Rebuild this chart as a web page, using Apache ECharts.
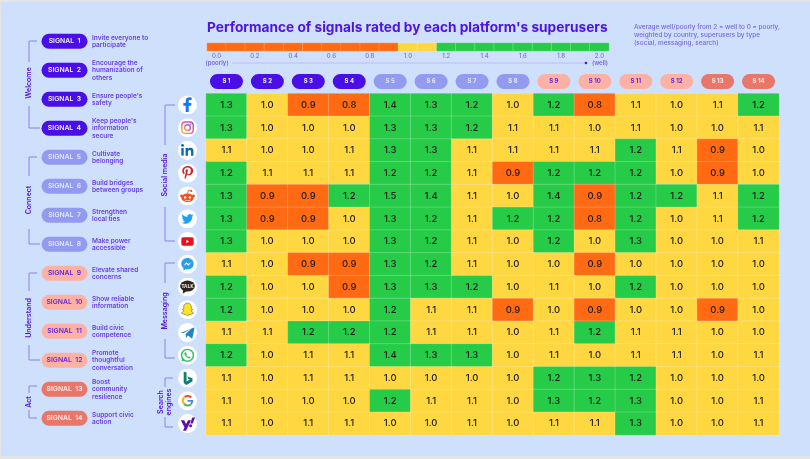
<!DOCTYPE html>
<html>
<head>
<meta charset="UTF-8">
<title>Performance of signals</title>
<script src="https://cdn.jsdelivr.net/npm/echarts@6/dist/echarts.min.js"></script>
<style>
html,body{margin:0;padding:0;background:#e4e4e4;}
#main{width:810px;height:459px;}
</style>
</head>
<body>
<div id="main"></div>
<script>
var FONT = 'Inter, "Open Sans", sans-serif';
var PURPLE = '#4f14e0';
var TEXT_PURPLE = '#6a3fe6';

var signalNames = ['SIGNAL  1','SIGNAL  2','SIGNAL  3','SIGNAL  4','SIGNAL  5','SIGNAL  6','SIGNAL  7','SIGNAL  8','SIGNAL  9','SIGNAL  10','SIGNAL  11','SIGNAL  12','SIGNAL  13','SIGNAL  14'];
var signalNotes = ['Invite everyone to\nparticipate','Encourage the\nhumanization of\nothers','Ensure people\'s\nsafety','Keep people\'s\ninformation\nsecure','Cultivate\nbelonging','Build bridges\nbetween groups','Strengthen\nlocal ties','Make power\naccessible','Elevate shared\nconcerns','Show reliable\ninformation','Build civic\ncompetence','Promote\nthoughtful\nconversation','Boost\ncommunity\nresilience','Support civic\naction'];
var signalShort = ['S 1','S 2','S 3','S 4','S 5','S 6','S 7','S 8','S 9','S 10','S 11','S 12','S 13','S 14'];
var signalGroup = [0,0,0,0,1,1,1,1,2,2,2,2,3,3];
var platforms = ['Facebook','Instagram','LinkedIn','Pinterest','Reddit','Twitter','YouTube','Messenger','KakaoTalk','Snapchat','Telegram','WhatsApp','Bing','Google','Yahoo'];
var ratings = [
  [1.3,1.0,0.9,0.8,1.4,1.3,1.2,1.0,1.2,0.8,1.1,1.0,1.1,1.2],
  [1.3,1.0,1.0,1.0,1.3,1.3,1.2,1.1,1.1,1.0,1.1,1.0,1.0,1.1],
  [1.1,1.0,1.0,1.1,1.3,1.3,1.1,1.1,1.1,1.1,1.2,1.1,0.9,1.0],
  [1.2,1.1,1.1,1.1,1.2,1.2,1.1,0.9,1.2,1.2,1.2,1.0,0.9,1.0],
  [1.3,0.9,0.9,1.2,1.5,1.4,1.1,1.0,1.4,0.9,1.2,1.2,1.1,1.2],
  [1.3,0.9,0.9,1.0,1.3,1.2,1.1,1.2,1.2,0.8,1.2,1.0,1.1,1.2],
  [1.3,1.0,1.0,1.0,1.3,1.2,1.1,1.0,1.2,1.0,1.3,1.0,1.0,1.1],
  [1.1,1.0,0.9,0.9,1.3,1.2,1.1,1.0,1.0,0.9,1.0,1.0,1.0,1.0],
  [1.2,1.0,1.0,0.9,1.3,1.3,1.2,1.0,1.1,1.0,1.2,1.0,1.0,1.0],
  [1.2,1.0,1.0,1.0,1.2,1.1,1.1,0.9,1.0,0.9,1.0,1.0,0.9,1.0],
  [1.1,1.1,1.2,1.2,1.2,1.1,1.1,1.0,1.1,1.2,1.1,1.1,1.0,1.0],
  [1.2,1.0,1.1,1.1,1.4,1.3,1.3,1.0,1.1,1.0,1.1,1.1,1.0,1.1],
  [1.1,1.0,1.1,1.1,1.0,1.0,1.0,1.0,1.2,1.3,1.2,1.0,1.0,1.0],
  [1.1,1.0,1.0,1.0,1.2,1.1,1.1,1.0,1.3,1.2,1.3,1.0,1.0,1.1],
  [1.1,1.0,1.1,1.1,1.0,1.0,1.1,1.0,1.1,1.1,1.3,1.0,1.0,1.1]
];
var legendSteps = ['0.0','0.1','0.2','0.3','0.4','0.5','0.6','0.7','0.8','0.9','1.0','1.1','1.2','1.3','1.4','1.5','1.6','1.7','1.8','1.9','2.0'];

// pill colours per signal group: welcome, connect, understand, act
var groupFill = ['#4a0fe6','#929bf0','#fdb1a5','#e8776a'];
var groupText = ['#f1ecff','#e3e6ff','#6428e0','#ffe9e4'];

// stadium outlines, stretched to symbolSize
var PILL_WIDE = 'path://M7.5 0H38.5A7.5 7.5 0 0 1 38.5 15H7.5A7.5 7.5 0 0 1 7.5 0Z';
var PILL_SHORT = 'path://M7.5 0H25.5A7.5 7.5 0 0 1 25.5 15H7.5A7.5 7.5 0 0 1 7.5 0Z';

// small hand drawn platform icons, white disc + glyph
function svgIcon(inner){
  var s = '<svg xmlns="http://www.w3.org/2000/svg" width="80" height="80" viewBox="0 0 40 40"><circle cx="20" cy="20" r="20" fill="#fff"/>' + inner + '</svg>';
  return 'image://data:image/svg+xml;charset=utf-8,' + encodeURIComponent(s);
}
var bird = 'M23.95 4.57a10 10 0 01-2.82.77 4.96 4.96 0 002.16-2.72c-.95.55-2 .96-3.12 1.19a4.92 4.92 0 00-8.38 4.48A13.98 13.98 0 011.64 3.16a4.92 4.92 0 001.52 6.57 4.9 4.9 0 01-2.23-.61v.06a4.92 4.92 0 003.95 4.83 5 5 0 01-2.21.08 4.94 4.94 0 004.6 3.42A9.87 9.87 0 010 19.54a14 14 0 007.56 2.21c9.05 0 14-7.5 14-13.98 0-.21 0-.42-.02-.63a9.94 9.94 0 002.46-2.55z';
var icons = [
  svgIcon('<path d="M22.500 35V22h5l1-6h-6v-3.500c0-2 1-3 3-3h3.200V4.500c-1.500-.2-3-.4-4.500-.4-5 0-8 3-8 8V16h-5v6h5v13z" fill="#1877f2"/>'),
  svgIcon('<defs><linearGradient id="g" x1="0" y1="1" x2="1" y2="0"><stop offset="0" stop-color="#fdb34a"/><stop offset=".5" stop-color="#e0608a"/><stop offset="1" stop-color="#9a55d0"/></linearGradient></defs><rect x="8" y="8" width="24" height="24" rx="7" fill="none" stroke="url(#g)" stroke-width="3"/><circle cx="20" cy="20" r="6" fill="none" stroke="url(#g)" stroke-width="3"/><circle cx="27" cy="13" r="1.600" fill="#b04fc0"/>'),
  svgIcon('<rect x="7" y="15" width="5" height="16" fill="#0a6aa8"/><circle cx="9.500" cy="9.500" r="3" fill="#0a6aa8"/><path d="M16 15h5v2.500c1-2 3-3 5.500-3 4.500 0 6 3 6 7V31h-5v-8.500c0-2-.7-3.500-2.700-3.500s-3.800 1.500-3.800 3.800V31h-5z" fill="#0a6aa8"/>'),
  svgIcon('<path d="M21 5c-8 0-12 5-12 10.500 0 3 1.300 5.500 3.500 6.500.5.200.9 0 1-.6l.4-1.700c.1-.5 0-.7-.3-1.100-.8-1-1.200-2-1.200-3.500 0-4.300 3.200-7 7.800-7 4.300 0 6.800 2.600 6.800 6 0 4.600-2 8.200-5 8.200-1.700 0-2.900-1.400-2.500-3 .5-2 1.400-4.100 1.400-5.500 0-1.300-.7-2.300-2.100-2.300-1.700 0-3 1.700-3 4 0 1.500.5 2.400.5 2.400l-2 8.600c-.6 2.500-.1 5.600 0 5.900 0 .2.300.2.400.1.200-.2 2.300-2.900 3-5.500l1.200-4.500c.6 1.100 2.300 2.100 4.100 2.100 5.400 0 9-4.900 9-11.500C31 9.700 26.700 5 21 5z" fill="#d8232a"/>'),
  svgIcon('<ellipse cx="20" cy="24" rx="13" ry="9" fill="#f0501e"/><circle cx="7.500" cy="20" r="3" fill="#f0501e"/><circle cx="32.500" cy="20" r="3" fill="#f0501e"/><circle cx="15" cy="23" r="2.500" fill="#fff"/><circle cx="25" cy="23" r="2.500" fill="#fff"/><path d="M14 28.500c3 2 9 2 12 0" stroke="#fff" stroke-width="1.500" fill="none"/><path d="M20 15l2-7 5 1.500" stroke="#f0501e" stroke-width="1.800" fill="none"/><circle cx="28" cy="9.500" r="2.200" fill="#f0501e"/>'),
  svgIcon('<g transform="translate(7.500 8) scale(1.040)"><path d="' + bird + '" fill="#1da1f2"/></g>'),
  svgIcon('<rect x="7" y="11" width="26" height="18" rx="4" fill="#e8101c"/><path d="M17.500 16.500v7l6-3.500z" fill="#fff"/>'),
  svgIcon('<path d="M20 7C12.500 7 7 12.300 7 19c0 3.800 1.800 7 4.600 9.200V33l4.400-2.400c1.300.3 2.600.5 4 .5 7.500 0 13-5.300 13-12S27.500 7 20 7z" fill="#2a9fe8"/><path d="M11.500 23l6-7 4 3.500 6.500-3.500-6 7-4-3.500z" fill="#fff"/>'),
  svgIcon('<ellipse cx="20" cy="18" rx="15.500" ry="11.500" fill="#2a2321"/><path d="M11 26l-1 8 8-5z" fill="#2a2321"/><text x="20" y="21.500" font-size="9" font-weight="700" font-family="DejaVu Sans" text-anchor="middle" fill="#e8e2d8">TALK</text>'),
  svgIcon('<path d="M20 6c-5.500 0-8 4-8 8v4l-3 1.500 3 2c-.8 3-3.500 4.500-5 5.500 1.500 1 3.500 1 4.500 2 1 1.500 2.500.5 4.500 1 1.500.5 2 2 4 2s2.500-1.500 4-2c2-.5 3.500.5 4.500-1 1-1 3-1 4.500-2-1.500-1-4.200-2.500-5-5.500l3-2-3-1.500v-4c0-4-2.500-8-8-8z" fill="#fbe326" stroke="#3a3a20" stroke-width="1"/>'),
  svgIcon('<path d="M5 21L35 9l-5 24-9-7-4 5-1-8 13-12-17 10z" fill="#1a87c9"/>'),
  svgIcon('<circle cx="20" cy="20" r="12.500" fill="#fff" stroke="#2fc15a" stroke-width="3"/><path d="M7 33l2.500-8 5.500 5.500z" fill="#2fc15a"/><path d="M15 13.500c-1.500 1-2 3-1 5 1.500 3.500 4 6 7.500 7.500 2 .8 4 .3 5-1.500l-3.500-2.500-1.500 1.500c-2-.8-3.500-2.300-4.300-4.200l1.500-1.500-2-4.300z" fill="#2fc15a"/>'),
  svgIcon('<path d="M12 6l6 2v19l7-4-3.500-1.500-2-5 11 4v6l-12.500 8-6-4z" fill="#0d7f78"/>'),
  svgIcon('<path d="M28 13a10 10 0 0 0-14-1" fill="none" stroke="#e9453a" stroke-width="4"/><path d="M13.500 12.500a10 10 0 0 0-1.500 13" fill="none" stroke="#f4b400" stroke-width="4"/><path d="M12.500 26a10 10 0 0 0 14.500 1.500" fill="none" stroke="#4cae54" stroke-width="4"/><path d="M27 27.500c2-1.800 3-4 3-7.500H20" fill="none" stroke="#4a88ee" stroke-width="4"/>'),
  svgIcon('<path d="M6 13h7l4 8 4-8h6.500L17 35h-6.500l3.200-7z" fill="#5f0fa8"/><path d="M30 7h6l-5 13h-5z" fill="#5f0fa8"/><circle cx="26.500" cy="24.500" r="3.200" fill="#5f0fa8"/>')
];

var heatData = [];
ratings.forEach(function(row, r){
  row.forEach(function(v, c){ heatData.push([c, r, v]); });
});
var legendData = legendSteps.map(function(s, i){ return [i, 0, parseFloat(s)]; });

function pillPoints(labels, horizontal){
  return labels.map(function(name, i){
    var g = signalGroup[i];
    return {
      value: horizontal ? [i, 0] : [0, i],
      itemStyle: {color: groupFill[g], opacity: 1},
      label: {formatter: name, color: groupText[g]}
    };
  });
}

// side annotations: brackets with a rotated caption
var brackets = [
  {name:'Welcome', x:29, tip:37, y1:41, y2:62, mid:83, y3:106, y4:128, tip2:40},
  {name:'Connect', x:29, tip:37, y1:157, y2:176, mid:200, y3:229, y4:244, tip2:40},
  {name:'Understand', x:29, tip:37, y1:273, y2:291, mid:318, y3:345, y4:360, tip2:40},
  {name:'Act', x:29, tip:37, y1:386, y2:393, mid:402, y3:410, y4:418, tip2:37},
  {name:'Social media', x:165, tip:175, y1:105, y2:145, mid:175, y3:207, y4:241, tip2:175},
  {name:'Messaging', x:165, tip:175, y1:263, y2:283, mid:311, y3:339, y4:358, tip2:175},
  {name:'Search\nengines', x:165, tip:173, y1:378, y2:387, mid:402, y3:417, y4:427, tip2:173}
];
var graphics = [
  {type:'rect', z:-1, shape:{x:1, y:2, width:809, height:454}, style:{fill:'#cfe0fd'}},
  {type:'line', shape:{x1:232, y1:63, x2:585, y2:63}, style:{stroke:'#b5b5f0', lineWidth:0.8}},
  {type:'circle', shape:{cx:586, cy:63, r:1.3}, style:{fill:PURPLE}},
  {type:'text', x:217, y:63, style:{text:'(poorly)', font:'600 6px '+FONT, fill:'#7a68dc', align:'center', verticalAlign:'middle'}},
  {type:'text', x:600, y:63, style:{text:'(well)', font:'600 6px '+FONT, fill:'#7a68dc', align:'center', verticalAlign:'middle'}},
  {type:'text', x:634, y:35, style:{text:'Average well/poorly from 2 = well to 0 = poorly,\nweighted by country, superusers by type\n(social, messaging, search)', font:'500 6.45px '+FONT, lineHeight:8, fill:'#7a68dc', align:'left', verticalAlign:'middle'}}
];
brackets.forEach(function(b){
  var lineStyle = {stroke:'#8f7fe8', lineWidth:1, fill:'none'};
  graphics.push({type:'polyline', shape:{points:[[b.tip,b.y1],[b.x,b.y1],[b.x,b.y2]]}, style:lineStyle});
  graphics.push({type:'polyline', shape:{points:[[b.x,b.y3],[b.x,b.y4],[b.tip2,b.y4]]}, style:lineStyle});
  graphics.push({type:'text', x:b.x, y:b.mid, rotation:Math.PI/2, style:{text:b.name, font:'600 7px '+FONT, lineHeight:8, fill:PURPLE, align:'center', verticalAlign:'middle'}});
});

var myChart = echarts.init(document.getElementById('main'), null, {renderer:'canvas'});

var option = {
  animation: false,
  backgroundColor: 'transparent',
  textStyle: {fontFamily: FONT},
  title: {
    text: 'Performance of signals rated by each platform\'s superusers',
    left: 207, top: 21, padding: 0,
    textStyle: {color: PURPLE, fontSize: 13.7, fontWeight: 700, fontFamily: FONT}
  },
  graphic: graphics,
  visualMap: {
    show: false,
    type: 'piecewise',
    seriesIndex: [0, 1],
    dimension: 2,
    pieces: [
      {lt: 0.95, color: '#ff6a13'},
      {gte: 0.95, lt: 1.15, color: '#ffd740'},
      {gte: 1.15, color: '#26cb47'}
    ]
  },
  grid: [
    {left: 206, top: 93.5, width: 573, height: 341.5},
    {left: 207, top: 43, width: 402, height: 8},
    {left: 206, top: 74, width: 573, height: 15},
    {left: 178, top: 93.5, width: 19, height: 341.5},
    {left: 41, top: 26.8, width: 47, height: 406}
  ],
  xAxis: [
    {gridIndex:0, type:'category', data:signalShort, position:'top', axisLine:{show:false}, axisTick:{show:false}, axisLabel:{show:false}, splitLine:{show:false}},
    {gridIndex:1, type:'category', data:legendSteps, axisLine:{show:false}, axisTick:{show:false},
      axisLabel:{interval:1, margin:2, fontSize:6, fontWeight:500, color:'#7a68dc', fontFamily:FONT}},
    {gridIndex:2, type:'category', data:signalShort, show:false},
    {gridIndex:3, type:'category', data:['icon'], show:false},
    {gridIndex:4, type:'category', data:['pill'], show:false}
  ],
  yAxis: [
    {gridIndex:0, type:'category', data:platforms, inverse:true, axisLine:{show:false}, axisTick:{show:false}, axisLabel:{show:false}, splitLine:{show:false}},
    {gridIndex:1, type:'category', data:['scale'], show:false},
    {gridIndex:2, type:'category', data:['head'], show:false},
    {gridIndex:3, type:'category', data:platforms, inverse:true, show:false},
    {gridIndex:4, type:'category', data:signalNotes, inverse:true, position:'right', axisLine:{show:false}, axisTick:{show:false},
      axisLabel:{margin:4, align:'left', fontSize:6.5, fontWeight:600, lineHeight:7.4, color:TEXT_PURPLE, fontFamily:FONT, interval:0}}
  ],
  series: [
    {
      type: 'heatmap', xAxisIndex: 0, yAxisIndex: 0, data: heatData,
      itemStyle: {borderColor: 'rgba(255,255,255,0.22)', borderWidth: 1},
      label: {show: true, color: '#1c1c1c', fontSize: 9.5, fontWeight: 500, fontFamily: FONT,
        formatter: function(p){ return p.value[2].toFixed(1); }}
    },
    {
      type: 'heatmap', xAxisIndex: 1, yAxisIndex: 1, data: legendData,
      itemStyle: {borderColor: 'rgba(255,255,255,0.35)', borderWidth: 0.7}
    },
    {
      type: 'scatter', xAxisIndex: 2, yAxisIndex: 2, symbol: PILL_SHORT, symbolSize: [33, 15],
      data: pillPoints(signalShort, true),
      label: {show: true, position: 'inside', fontSize: 6, fontWeight: 700, fontFamily: FONT}
    },
    {
      type: 'scatter', xAxisIndex: 3, yAxisIndex: 3, symbolSize: 19, itemStyle: {opacity: 1},
      data: platforms.map(function(p, i){ return {value:[0, i], symbol:icons[i]}; })
    },
    {
      type: 'scatter', xAxisIndex: 4, yAxisIndex: 4, symbol: PILL_WIDE, symbolSize: [46, 15],
      data: pillPoints(signalNames, false),
      label: {show: true, position: 'inside', fontSize: 6.8, fontWeight: 600, fontFamily: FONT}
    }
  ]
};
myChart.setOption(option);
</script>
</body>
</html>
